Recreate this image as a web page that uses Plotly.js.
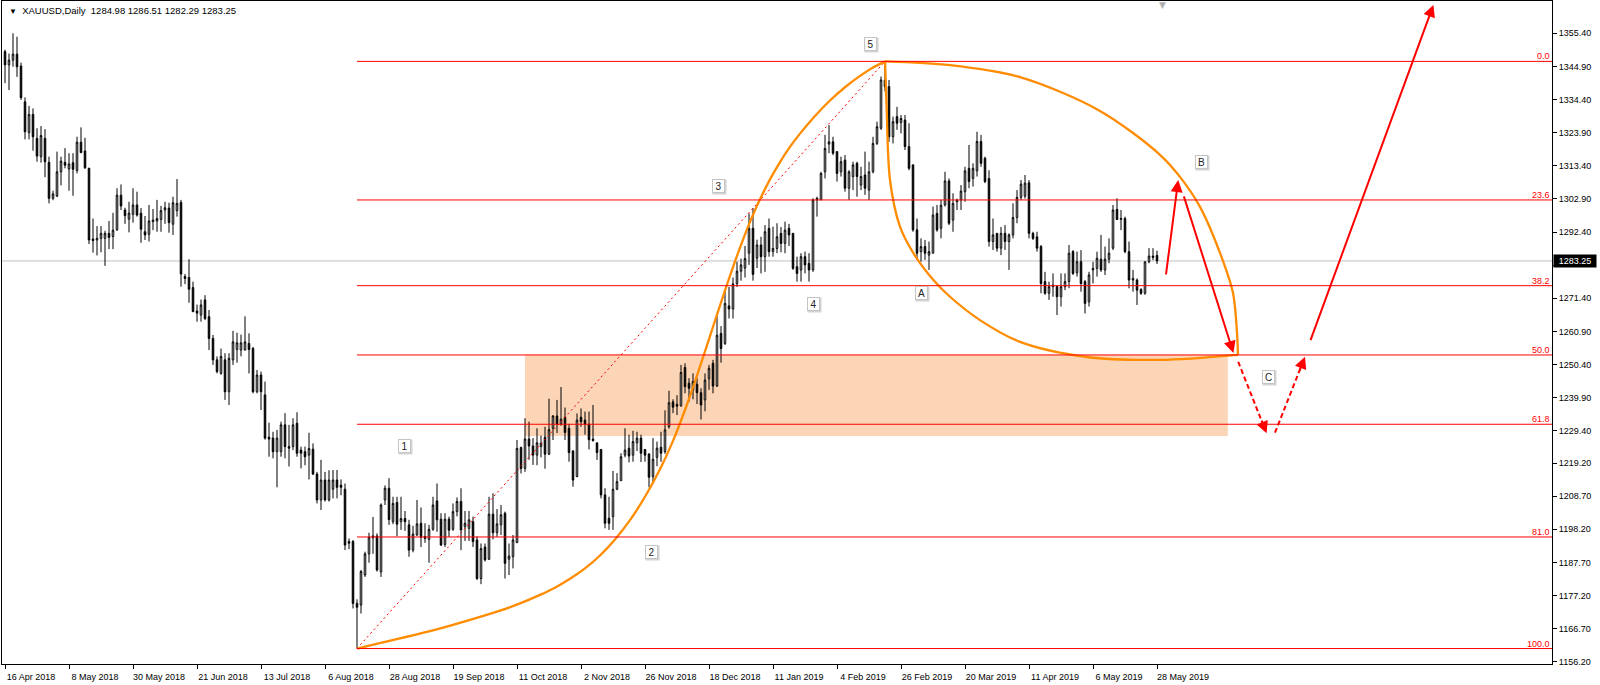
<!DOCTYPE html>
<html><head><meta charset="utf-8">
<script src="https://cdn.plot.ly/plotly-3.0.1.min.js"></script>
<style>html,body{margin:0;padding:0;background:#fff;}#chart{width:1600px;height:685px;}</style>
</head><body><div id="chart"></div>
<script>
// ---------- data ----------
const symbolName = "XAUUSD,Daily";
const lastQuote = [1284.98, 1286.51, 1282.29, 1283.25];
const dateLabels = ["16 Apr 2018","8 May 2018","30 May 2018","21 Jun 2018","13 Jul 2018","6 Aug 2018","28 Aug 2018","19 Sep 2018","11 Oct 2018","2 Nov 2018","26 Nov 2018","18 Dec 2018","11 Jan 2019","4 Feb 2019","26 Feb 2019","20 Mar 2019","11 Apr 2019","6 May 2019","28 May 2019"];
const barsPerLabel = 16;
const priceTicks = [1355.40,1344.90,1334.40,1323.90,1313.40,1302.90,1292.40,1281.90,1271.40,1260.90,1250.40,1239.90,1229.40,1219.20,1208.70,1198.20,1187.70,1177.20,1166.70,1156.20];

const openP = [1349.6,1345.4,1346.9,1348.8,1345.0,1333.7,1323.9,1329.7,1322.1,1316.3,
1322.1,1314.5,1303.1,1303.8,1311.5,1314.5,1312.4,1314.4,1311.9,1320.9,
1318.1,1312.6,1290.2,1289.9,1290.4,1290.4,1292.0,1291.0,1293.1,1304.1,
1299.4,1296.5,1298.0,1301.0,1298.4,1292.5,1291.7,1295.7,1295.9,1296.4,
1299.4,1300.0,1294.9,1299.2,1301.8,1278.3,1278.0,1274.8,1267.4,1266.1,
1270.9,1265.6,1258.7,1251.9,1247.6,1251.9,1241.8,1251.9,1255.2,1255.0,
1255.0,1257.1,1255.5,1241.8,1247.1,1240.8,1227.4,1227.1,1222.8,1222.8,
1231.3,1224.4,1224.4,1231.8,1223.3,1222.8,1221.7,1223.6,1215.7,1207.5,
1213.8,1207.5,1210.9,1213.8,1212.2,1210.9,1194.3,1194.3,1174.7,1174.2,
1183.7,1190.4,1195.5,1196.1,1184.7,1207.5,1211.2,1200.6,1206.7,1200.6,
1201.6,1199.6,1191.6,1196.4,1200.1,1195.9,1195.0,1198.2,1207.2,1201.4,
1193.4,1201.4,1198.2,1203.8,1207.0,1199.0,1198.5,1200.6,1194.8,1182.6,
1192.6,1188.7,1203.0,1197.1,1199.6,1203.3,1188.7,1189.5,1194.0,1224.1,
1217.5,1226.8,1224.6,1221.7,1224.4,1227.4,1222.0,1230.2,1234.1,1231.6,
1233.7,1230.2,1223.0,1214.9,1233.7,1232.8,1231.5,1226.8,1225.6,1223.5,
1209.1,1201.7,1202.2,1210.9,1213.6,1221.7,1223.9,1221.7,1225.6,1227.1,
1223.5,1222.1,1214.9,1221.0,1224.2,1222.8,1230.7,1238.6,1237.8,1237.3,
1249.5,1244.5,1242.3,1244.2,1241.5,1239.2,1245.9,1250.8,1243.6,1260.3,
1257.1,1269.0,1268.0,1276.0,1280.0,1281.0,1285.7,1293.6,1284.1,1288.3,
1284.6,1293.6,1286.2,1287.2,1292.0,1288.8,1293.6,1292.0,1281.4,1280.4,
1284.6,1282.5,1280.4,1302.6,1302.6,1311.5,1320.3,1321.0,1317.9,1311.5,
1315.2,1306.3,1310.0,1314.2,1307.3,1310.5,1305.7,1311.5,1320.5,1325.3,
1340.6,1338.5,1322.6,1329.0,1327.1,1327.9,1319.5,1313.7,1293.1,1286.2,
1287.8,1285.1,1285.7,1298.3,1293.6,1301.0,1308.6,1296.2,1302.0,1302.6,
1305.2,1312.6,1309.4,1311.8,1321.1,1315.8,1309.4,1289.4,1292.0,1287.3,
1292.0,1289.4,1291.5,1297.0,1303.4,1303.8,1308.0,1292.0,1290.9,1287.8,
1276.7,1273.0,1275.1,1275.1,1271.9,1275.1,1276.7,1286.2,1279.5,1283.0,
1276.7,1270.3,1280.4,1280.9,1283.8,1280.4,1283.8,1287.3,1299.6,1296.4,
1296.7,1286.2,1277.2,1277.2,1274.2,1273.0,1283.0,1284.8,1284.98];

const highP = [1350.2,1349.0,1355.4,1354.3,1346.1,1335.1,1332.4,1331.6,1325.3,1326.0,
1325.0,1316.3,1305.5,1317.9,1316.3,1319.0,1317.4,1317.4,1322.6,1325.6,
1322.3,1312.8,1296.7,1294.3,1294.3,1292.8,1295.9,1298.5,1306.3,1307.5,
1300.1,1302.0,1306.3,1305.2,1300.0,1297.5,1301.0,1299.7,1302.6,1300.7,
1302.0,1301.7,1303.6,1309.2,1302.6,1279.1,1283.8,1276.7,1269.4,1271.0,
1272.4,1267.7,1259.8,1253.0,1255.5,1254.0,1254.0,1261.1,1260.5,1259.9,
1265.7,1260.3,1256.0,1248.7,1248.2,1245.0,1232.0,1229.1,1229.7,1232.3,
1235.0,1231.3,1233.4,1235.3,1224.4,1224.4,1228.8,1225.4,1216.4,1220.2,
1216.4,1216.9,1217.0,1217.0,1214.0,1212.7,1195.3,1194.8,1176.0,1185.3,
1191.1,1197.1,1202.1,1196.9,1206.4,1212.1,1214.4,1208.5,1208.5,1208.5,
1204.0,1201.2,1199.3,1207.5,1205.1,1200.1,1199.6,1208.5,1212.7,1203.3,
1203.3,1202.2,1206.4,1208.3,1211.2,1204.0,1204.0,1202.2,1195.9,1193.7,
1193.7,1208.5,1209.6,1204.6,1205.9,1203.8,1193.7,1196.4,1226.5,1224.4,
1233.4,1232.3,1227.1,1230.2,1227.9,1230.7,1239.6,1234.4,1239.2,1243.3,
1236.8,1231.6,1223.3,1234.9,1236.5,1235.5,1235.5,1237.6,1225.6,1223.5,
1211.2,1208.5,1216.7,1216.0,1222.3,1230.2,1228.2,1229.4,1229.1,1228.2,
1223.5,1222.1,1227.1,1226.0,1229.1,1235.9,1242.1,1239.4,1240.7,1250.3,
1250.8,1246.1,1247.6,1246.1,1242.9,1247.6,1250.3,1251.9,1265.7,1262.6,
1273.8,1275.0,1278.0,1283.0,1284.0,1288.0,1298.3,1300.0,1290.0,1290.9,
1294.6,1296.7,1294.1,1295.2,1294.0,1295.7,1295.0,1292.0,1284.6,1285.7,
1286.2,1285.7,1303.1,1303.6,1311.5,1323.2,1326.3,1322.6,1317.9,1316.3,
1316.8,1312.0,1314.7,1314.7,1313.1,1317.9,1314.7,1322.6,1327.4,1341.7,
1346.5,1340.6,1329.0,1332.1,1329.5,1329.5,1326.9,1313.7,1296.7,1290.4,
1289.9,1289.4,1300.5,1301.0,1302.6,1311.5,1309.4,1304.7,1303.0,1307.3,
1313.1,1320.0,1314.2,1324.2,1323.2,1316.3,1312.0,1296.7,1292.0,1294.0,
1294.6,1292.0,1301.5,1305.7,1308.9,1310.5,1308.9,1292.5,1292.5,1288.3,
1279.8,1276.7,1279.3,1275.6,1279.3,1279.3,1288.3,1286.7,1286.2,1286.7,
1277.2,1279.8,1283.0,1286.2,1291.5,1287.8,1290.4,1301.0,1303.1,1299.4,
1297.3,1289.4,1280.4,1277.7,1274.6,1283.0,1287.3,1287.3,1286.51];

const lowP = [1339.6,1337.4,1344.8,1341.6,1334.3,1321.8,1321.8,1318.2,1314.7,1314.4,
1309.8,1301.5,1302.5,1303.5,1307.2,1312.6,1305.5,1303.9,1311.0,1317.4,
1312.4,1288.6,1285.9,1285.0,1286.0,1281.7,1287.0,1287.0,1292.8,1299.4,
1295.0,1292.3,1295.4,1297.3,1289.0,1289.9,1289.4,1293.0,1292.5,1292.5,
1295.0,1292.2,1291.5,1297.3,1275.1,1275.9,1270.0,1267.0,1264.0,1264.0,
1264.5,1255.0,1250.3,1247.6,1247.2,1239.2,1237.6,1250.3,1251.0,1253.0,
1254.9,1247.6,1241.3,1241.3,1236.0,1226.6,1221.2,1220.7,1211.5,1221.2,
1220.7,1218.1,1223.3,1221.2,1217.5,1218.5,1214.0,1215.4,1206.4,1204.3,
1207.0,1207.0,1208.0,1208.0,1209.0,1191.6,1191.9,1173.1,1160.4,1171.5,
1183.1,1187.6,1190.4,1184.8,1183.1,1205.9,1199.6,1199.8,1196.0,1198.0,
1197.7,1189.5,1190.9,1196.1,1192.6,1193.9,1187.6,1197.7,1197.4,1192.9,
1192.6,1195.8,1197.7,1202.3,1191.6,1194.5,1194.5,1192.6,1182.1,1180.8,
1188.0,1188.5,1195.0,1195.8,1196.4,1182.6,1183.7,1185.8,1193.8,1215.9,
1216.4,1220.2,1218.6,1218.5,1221.0,1217.4,1221.7,1226.5,1228.7,1231.0,
1226.5,1219.6,1211.7,1214.7,1230.7,1228.2,1223.5,1226.0,1220.2,1208.0,
1198.5,1198.0,1198.0,1210.6,1213.5,1221.0,1219.4,1219.6,1223.0,1219.5,
1219.6,1211.5,1212.7,1218.2,1219.6,1222.1,1230.1,1235.0,1234.4,1237.1,
1241.3,1238.6,1239.4,1237.9,1233.0,1235.6,1242.4,1241.3,1243.3,1251.0,
1256.6,1265.0,1265.0,1275.0,1277.0,1278.0,1282.0,1277.0,1281.0,1279.3,
1279.8,1284.6,1284.6,1285.7,1286.0,1285.7,1288.0,1280.4,1276.7,1276.7,
1279.3,1276.7,1279.8,1297.3,1302.6,1309.4,1317.4,1316.8,1308.4,1310.0,
1305.2,1302.6,1305.7,1303.6,1305.7,1304.2,1302.6,1311.0,1320.0,1324.8,
1337.0,1321.0,1320.5,1324.8,1323.7,1318.4,1312.0,1292.5,1283.6,1283.0,
1283.6,1280.4,1285.7,1292.5,1290.4,1300.5,1294.6,1292.5,1299.4,1299.4,
1302.0,1306.3,1306.8,1310.0,1313.1,1307.9,1287.8,1286.7,1286.2,1285.1,
1286.7,1280.4,1290.4,1295.2,1302.6,1303.0,1290.4,1289.9,1286.2,1273.0,
1272.5,1270.9,1271.9,1266.1,1268.8,1274.0,1274.6,1278.8,1278.3,1273.5,
1266.6,1268.8,1276.1,1278.3,1279.8,1278.8,1282.5,1286.7,1296.2,1293.0,
1285.7,1274.6,1273.5,1269.3,1272.5,1272.5,1282.5,1283.5,1282.29];

const closeP = [1345.4,1346.9,1348.8,1344.8,1335.0,1324.2,1329.7,1322.6,1316.5,1323.0,
1314.7,1303.1,1304.5,1311.5,1314.9,1313.6,1314.0,1312.3,1320.9,1317.6,
1312.8,1289.9,1289.7,1290.4,1292.0,1292.0,1290.7,1293.0,1304.1,1300.7,
1297.6,1298.4,1301.0,1297.8,1293.3,1291.5,1295.9,1296.2,1296.7,1299.2,
1300.1,1295.4,1301.7,1301.5,1279.1,1277.7,1274.3,1267.2,1266.7,1269.3,
1265.0,1258.7,1251.9,1248.2,1253.0,1241.8,1252.4,1257.6,1257.3,1257.3,
1257.6,1255.2,1241.8,1247.1,1241.8,1227.1,1226.8,1222.8,1227.1,1231.3,
1224.4,1223.9,1231.3,1222.3,1222.3,1221.2,1223.8,1215.7,1207.5,1213.8,
1207.5,1213.8,1213.8,1211.5,1211.5,1193.2,1193.8,1174.7,1173.5,1184.8,
1190.4,1195.7,1196.1,1185.3,1205.9,1211.2,1201.3,1206.4,1199.8,1201.6,
1200.6,1191.6,1196.7,1199.9,1195.7,1195.3,1198.2,1205.9,1201.2,1193.2,
1201.4,1197.9,1203.8,1207.0,1198.0,1200.1,1201.2,1194.3,1182.6,1192.1,
1188.5,1203.0,1197.1,1199.9,1202.8,1187.4,1189.7,1194.8,1223.8,1217.5,
1226.8,1224.6,1221.7,1225.6,1225.5,1222.0,1229.8,1234.1,1231.6,1233.1,
1228.9,1222.5,1213.8,1232.8,1232.3,1231.5,1226.6,1226.3,1222.5,1209.1,
1200.1,1200.1,1210.9,1213.3,1221.2,1223.3,1221.4,1226.0,1227.1,1222.3,
1221.7,1214.7,1220.4,1223.9,1222.3,1229.7,1238.3,1236.9,1237.2,1247.9,
1243.4,1242.9,1245.0,1241.5,1237.6,1245.5,1249.2,1243.6,1259.7,1255.5,
1269.8,1268.0,1276.0,1280.0,1282.0,1284.0,1293.6,1279.0,1288.3,1284.6,
1292.5,1286.2,1287.2,1290.9,1288.8,1293.0,1291.5,1280.9,1279.3,1284.6,
1282.0,1280.4,1302.6,1303.1,1311.0,1318.9,1321.0,1317.4,1311.0,1314.7,
1306.3,1311.5,1313.7,1310.0,1310.0,1306.3,1311.5,1320.5,1325.8,1340.6,
1338.5,1322.6,1327.4,1326.9,1328.4,1319.5,1312.6,1293.1,1285.7,1287.8,
1285.7,1286.2,1297.8,1293.1,1300.9,1308.6,1295.2,1301.5,1302.5,1305.4,
1311.8,1308.4,1312.6,1321.1,1314.2,1308.4,1289.4,1291.5,1287.3,1292.0,
1289.4,1291.5,1297.0,1303.4,1307.6,1307.9,1292.0,1290.4,1287.3,1276.1,
1273.0,1275.1,1275.6,1271.9,1275.1,1276.7,1285.7,1279.3,1283.0,1276.1,
1269.8,1278.8,1280.9,1284.1,1280.4,1283.8,1285.7,1299.4,1296.4,1296.7,
1286.2,1277.2,1277.7,1274.0,1273.0,1283.0,1284.8,1284.4,1283.25];

// Fibonacci retracement drawn from swing low to swing high
const fibLevels = [0.0, 23.6, 38.2, 50.0, 61.8, 81.0, 100.0];
const fibLowBar = 88, fibLowPrice = 1160.4;
const fibHighBar = 220, fibHighPrice = 1346.5;

// shaded zone (bar index / price)
const zoneBars = [130, 305.7];
const zonePrices = [1227.8, 1253.5];

// wave labels
const waveTexts = ["1","2","3","4","5","A","B","C"];
const waveBars = [99.8, 161.7, 178.4, 202.1, 216.3, 229.0, 299.2, 315.8];
const wavePrices = [1224.6, 1191.0, 1307.0, 1269.6, 1352.0, 1273.1, 1314.5, 1246.6];

// hand-drawn orange arcs (anchor points, bar index / price)
const arcRiseBars = [88, 106.25, 115, 123.75, 128.75, 133.75, 137.5, 141.25, 145, 148.75, 152.5, 156.25, 160, 163.75, 166.9, 170, 172.5, 175, 177.5, 180, 182.5, 185, 186.9, 188.75, 191.25, 193.75, 196.25, 198.75, 202.5, 206.25, 210, 213.75, 216.9, 220];
const arcRisePrices = [1160.4, 1165.9, 1169.0, 1172.4, 1174.7, 1177.4, 1179.7, 1182.5, 1185.8, 1189.9, 1195.0, 1201.1, 1208.5, 1217.2, 1225.9, 1236.0, 1245.0, 1254.6, 1264.3, 1273.9, 1283.1, 1291.7, 1297.6, 1302.8, 1309.1, 1314.6, 1319.4, 1323.6, 1329.2, 1334.1, 1338.3, 1341.9, 1344.5, 1346.5];
const arcFallBars = [220, 220.4, 221.25, 223.75, 227.1, 232.1, 236.25, 243.75, 253.75, 270.5, 288.75, 308.25];
const arcFallPrices = [1346.5, 1332.1, 1308.9, 1294.1, 1285.7, 1277.2, 1271.9, 1264.5, 1257.6, 1252.8, 1251.9, 1253.5];
const arcTopBars = [220, 236.25, 253.75, 273.75, 288.75, 293.75, 298.75, 303.75, 307, 308, 308.25];
const arcTopPrices = [1346.5, 1345.3, 1341.5, 1330.8, 1316.9, 1309.9, 1300.4, 1285.8, 1273.1, 1260.5, 1253.5];

// projected path arrows
const arrowTailBars = [290.2, 294.6, 308.3, 317.5, 326.25];
const arrowTailPrices = [1278.5, 1304.2, 1251.3, 1228.8, 1257.7];
const arrowHeadBars = [293.3, 307.1, 315.4, 325.0, 357.1];
const arrowHeadPrices = [1308.9, 1254.1, 1228.6, 1252.9, 1364.4];
const arrowDashed = [false, false, true, true, false];

// ---------- chart ----------
const FONT = "Liberation Sans, Arial, sans-serif";
const xRange = [-0.75, 386.75];
const yRange = [1155.5, 1365.64];
const barIdx = openP.map((_, i) => i);
const fibPrice = lvl => fibHighPrice - lvl / 100 * (fibHighPrice - fibLowPrice);

const traces = [];
traces.push({
  type: 'candlestick', x: barIdx, open: openP, high: highP, low: lowP, close: closeP,
  increasing: {line: {color: '#000', width: 1}, fillcolor: '#fff'},
  decreasing: {line: {color: '#000', width: 1}, fillcolor: '#000'},
  whiskerwidth: 0, hoverinfo: 'skip', showlegend: false
});
traces.push({
  type: 'scatter', mode: 'lines', x: [fibLowBar, fibHighBar], y: [fibLowPrice, fibHighPrice],
  line: {color: '#ff0000', width: 1, dash: '2px,3px'}, hoverinfo: 'skip', showlegend: false
});
[[arcRiseBars, arcRisePrices, 0.5], [arcFallBars, arcFallPrices, 0.9], [arcTopBars, arcTopPrices, 0.9]].forEach(([xs, ys, sm]) => {
  traces.push({type: 'scatter', mode: 'lines', x: xs, y: ys,
    line: {color: '#ff8c00', width: 2.3, shape: 'spline', smoothing: sm},
    hoverinfo: 'skip', showlegend: false});
});

const shapes = [];
shapes.push({type: 'rect', xref: 'x', yref: 'y', x0: zoneBars[0], x1: zoneBars[1], y0: zonePrices[0], y1: zonePrices[1],
  fillcolor: 'rgb(251,213,181)', line: {width: 0}, layer: 'below'});
shapes.push({type: 'line', xref: 'paper', yref: 'y', x0: 0, x1: 1, y0: lastQuote[3], y1: lastQuote[3],
  line: {color: '#c0c0c0', width: 1}, layer: 'below'});
fibLevels.forEach(lvl => {
  shapes.push({type: 'line', xref: 'x', yref: 'y', x0: fibLowBar, x1: xRange[1], y0: fibPrice(lvl), y1: fibPrice(lvl),
    line: {color: '#ff0000', width: 1}, layer: 'above'});
});

const annotations = [];
annotations.push({xref: 'paper', yref: 'paper', x: 0, y: 1, xanchor: 'left', yanchor: 'top', xshift: 5, yshift: -2,
  showarrow: false, align: 'left',
  text: '<span style="font-size:8px">\u25BC</span>\u00a0\u00a0' + symbolName + '\u00a0\u00a0' + lastQuote.map(v => v.toFixed(2)).join('\u00a0'),
  font: {family: FONT, size: 9.5, color: '#000'}});
annotations.push({xref: 'paper', yref: 'paper', x: 0.749, y: 1, xanchor: 'center', yanchor: 'top', yshift: 3,
  showarrow: false, text: '\u25BC', font: {family: 'DejaVu Sans', size: 9, color: '#b0b0b0'}});
fibLevels.forEach(lvl => {
  annotations.push({xref: 'paper', yref: 'y', x: 1, y: fibPrice(lvl), xanchor: 'right', yanchor: 'bottom',
    xshift: -1, yshift: -1, showarrow: false, text: lvl.toFixed(1),
    font: {family: FONT, size: 9, color: '#ff0000'}, borderpad: 0});
});
annotations.push({xref: 'paper', yref: 'y', x: 1, y: lastQuote[3], xanchor: 'left', yanchor: 'middle', xshift: 1,
  showarrow: false, text: lastQuote[3].toFixed(2), bgcolor: '#000', width: 40, height: 10, borderpad: 1,
  font: {family: FONT, size: 9, color: '#fff'}});
// badge shadows first, then the badges
waveTexts.forEach((t, k) => {
  annotations.push({xref: 'x', yref: 'y', x: waveBars[k], y: wavePrices[k], xshift: 1, yshift: -1, showarrow: false, text: '',
    bgcolor: '#d4d4d4', borderpad: 0, width: 13, height: 14});
});
waveTexts.forEach((t, k) => {
  annotations.push({xref: 'x', yref: 'y', x: waveBars[k], y: wavePrices[k], showarrow: false, text: t,
    bgcolor: '#fff', bordercolor: '#c4c4c4', borderwidth: 1, borderpad: 0, width: 11, height: 12,
    font: {family: FONT, size: 10, color: '#222'}});
});
arrowTailBars.forEach((tb, k) => {
  const hb = arrowHeadBars[k], hp = arrowHeadPrices[k], tp = arrowTailPrices[k];
  let ax = tb, ay = tp;
  if (arrowDashed[k]) {
    traces.push({type: 'scatter', mode: 'lines', x: [tb, tb + 0.88 * (hb - tb)], y: [tp, tp + 0.88 * (hp - tp)],
      line: {color: '#ff0000', width: 2, dash: '5px,3px'}, hoverinfo: 'skip', showlegend: false});
    ax = tb + 0.8 * (hb - tb); ay = tp + 0.8 * (hp - tp);
  }
  annotations.push({xref: 'x', yref: 'y', axref: 'x', ayref: 'y', x: hb, y: hp, ax: ax, ay: ay,
    showarrow: true, arrowhead: 2, arrowsize: 1.2, arrowwidth: 2, arrowcolor: '#ff0000', standoff: 0, startstandoff: 0, text: ''});
});

// the 1281.90 grid label sits under the black current-price tag, as on the terminal
const priceTickText = priceTicks.map(v => Math.abs(v - lastQuote[3]) < 3 ? '' : v.toFixed(2));

const layout = {
  width: 1600, height: 685,
  margin: {l: 2, r: 48, t: 1, b: 21, pad: 0},
  paper_bgcolor: '#fff', plot_bgcolor: '#fff',
  showlegend: false, hovermode: false, dragmode: false,
  boxgap: 0.45,
  font: {family: FONT, size: 9, color: '#000'},
  xaxis: {
    type: 'linear', range: xRange, autorange: false,
    tickmode: 'array', tickvals: dateLabels.map((_, k) => k * barsPerLabel), ticktext: dateLabels,
    ticks: 'outside', ticklen: 4, tickcolor: '#000', tickwidth: 1, ticklabelshift: 26,
    showgrid: false, zeroline: false, showline: true, mirror: true, linecolor: '#000', linewidth: 1,
    tickfont: {family: FONT, size: 9, color: '#000'},
    rangeslider: {visible: false}, fixedrange: true
  },
  yaxis: {
    range: yRange, autorange: false, side: 'right',
    tickmode: 'array', tickvals: priceTicks, ticktext: priceTickText,
    ticks: 'outside', ticklen: 4, tickcolor: '#000', tickwidth: 1,
    showgrid: false, zeroline: false, showline: true, mirror: true, linecolor: '#000', linewidth: 1,
    tickfont: {family: FONT, size: 9, color: '#000'}, fixedrange: true
  },
  shapes: shapes, annotations: annotations
};

Plotly.newPlot('chart', traces, layout, {staticPlot: true, displayModeBar: false});
</script>
</body></html>
